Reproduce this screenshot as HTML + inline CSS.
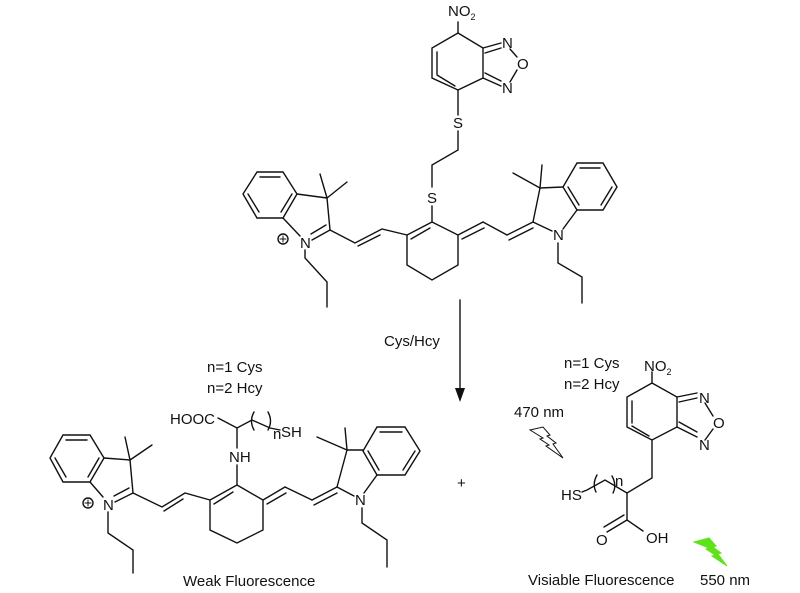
<!DOCTYPE html>
<html><head><meta charset="utf-8"><style>
html,body{margin:0;padding:0;background:#fff;}
svg{display:block;}
text{font-family:"Liberation Sans",Arial,sans-serif;font-size:15px;fill:#111;}
</style></head><body>
<svg width="800" height="593" viewBox="0 0 800 593" xmlns="http://www.w3.org/2000/svg">
<g stroke="#111" stroke-width="1.4" fill="none" stroke-linecap="round">
<polyline points="458,33 483,48 483,78 458,90 432,78 432,48 458,33"/>
<line x1="437" y1="74" x2="437" y2="52"/><line x1="455" y1="86" x2="437" y2="75"/>
<line x1="458" y1="33" x2="458" y2="22"/>
<line x1="483" y1="48" x2="501" y2="43"/><line x1="485" y1="53" x2="501" y2="48"/>
<line x1="483" y1="78" x2="501" y2="86"/><line x1="485" y1="73" x2="501" y2="81"/>
<line x1="510" y1="49" x2="517" y2="57"/><line x1="510" y1="82" x2="517" y2="70"/>
<line x1="458" y1="90" x2="458" y2="115"/>
<polyline points="458,131 458,150 432,165 432,187"/>
<line x1="432" y1="206" x2="432" y2="222"/>
<polyline points="432,222 458,235 458,265 432,280 407,265 407,235 432,222"/>
<line x1="411" y1="239" x2="430" y2="228"/>
<polyline points="407,235 382,229 355,243 330,230"/>
<line x1="380" y1="235" x2="358" y2="246"/>
<polyline points="257,172 283,172 297,194 283,218 257,218 243,194 257,172"/>
<line x1="260" y1="177" x2="280" y2="177"/><line x1="292" y1="194" x2="281" y2="212"/><line x1="248" y1="194" x2="259" y2="212"/>
<line x1="297" y1="194" x2="327" y2="198"/>
<line x1="327" y1="198" x2="330" y2="230"/>
<line x1="327" y1="198" x2="320" y2="174"/><line x1="327" y1="198" x2="347" y2="182"/>
<line x1="330" y1="230" x2="312" y2="240"/><line x1="326" y1="225" x2="311" y2="234"/>
<line x1="283" y1="218" x2="300" y2="236"/>
<polyline points="305,250 305,258 327,282 327,307"/>
<circle cx="283" cy="239" r="5"/><line x1="280" y1="239" x2="286" y2="239" stroke-width="1"/><line x1="283" y1="236" x2="283" y2="242" stroke-width="1"/>
<line x1="458" y1="235" x2="483" y2="222"/><line x1="462" y1="239" x2="484" y2="228"/>
<line x1="483" y1="222" x2="507" y2="235"/>
<line x1="507" y1="235" x2="533" y2="222"/><line x1="509" y1="240" x2="533" y2="228"/>
<line x1="533" y1="222" x2="552" y2="231"/>
<line x1="533" y1="222" x2="540" y2="188"/>
<line x1="540" y1="188" x2="513" y2="173"/><line x1="540" y1="188" x2="542" y2="165"/>
<line x1="540" y1="188" x2="563" y2="187"/>
<polyline points="577,163 603,163 617,187 603,210 577,210 563,187 577,163"/>
<line x1="580" y1="168" x2="600" y2="168"/><line x1="612" y1="187" x2="601" y2="205"/><line x1="568" y1="187" x2="579" y2="205"/>
<line x1="577" y1="210" x2="563" y2="229"/>
<polyline points="558,243 558,263 582,277 582,303"/>
<line x1="460" y1="300" x2="460" y2="392"/>
</g>
<polygon points="455,388 465,388 460,402" fill="#111"/>

<g stroke="#111" stroke-width="1.4" fill="none" stroke-linecap="round">
<polyline points="218,418 237,428 252,420 270,428 280,430"/>
<path d="M254,412 Q249,421 254,430"/><path d="M268,412 Q273,421 268,430"/>
<line x1="237" y1="428" x2="237" y2="448"/>
<line x1="237" y1="465" x2="237" y2="485"/>
<polyline points="237,485 263,500 263,530 237,543 210,530 210,500 237,485"/>
<line x1="214" y1="504" x2="233" y2="492"/>
<polyline points="210,500 185,493 162,507 133,493"/>
<line x1="183" y1="499" x2="164" y2="511"/>
<polyline points="63,435 90,435 104,458 90,482 63,482 50,458 63,435"/>
<line x1="66" y1="440" x2="87" y2="440"/><line x1="99" y1="458" x2="88" y2="477"/><line x1="55" y1="458" x2="66" y2="477"/>
<line x1="104" y1="458" x2="130" y2="460"/>
<line x1="130" y1="460" x2="133" y2="493"/>
<line x1="130" y1="460" x2="125" y2="437"/><line x1="130" y1="460" x2="152" y2="445"/>
<line x1="133" y1="493" x2="115" y2="502"/><line x1="129" y1="488" x2="114" y2="496"/>
<line x1="90" y1="482" x2="103" y2="497"/>
<polyline points="108,512 108,533 133,550 133,573"/>
<circle cx="88" cy="503" r="5"/><line x1="85" y1="503" x2="91" y2="503" stroke-width="1"/><line x1="88" y1="500" x2="88" y2="506" stroke-width="1"/>
<line x1="263" y1="500" x2="285" y2="487"/><line x1="267" y1="504" x2="286" y2="493"/>
<line x1="285" y1="487" x2="312" y2="500"/>
<line x1="312" y1="500" x2="337" y2="487"/><line x1="314" y1="505" x2="337" y2="493"/>
<line x1="337" y1="487" x2="354" y2="496"/>
<line x1="337" y1="487" x2="347" y2="450"/>
<line x1="347" y1="450" x2="317" y2="437"/><line x1="347" y1="450" x2="345" y2="428"/>
<line x1="347" y1="450" x2="363" y2="450"/>
<polyline points="377,427 405,427 420,451 405,475 377,475 363,451 377,427"/>
<line x1="380" y1="432" x2="402" y2="432"/><line x1="415" y1="451" x2="403" y2="470"/><line x1="368" y1="451" x2="379" y2="470"/>
<line x1="377" y1="475" x2="364" y2="493"/>
<polyline points="362,508 362,523 387,540 387,567"/>
</g>

<g stroke="#111" stroke-width="1.4" fill="none" stroke-linecap="round">
<polyline points="652,383 677,397 677,427 652,440 627,427 627,397 652,383"/>
<line x1="632" y1="423" x2="632" y2="401"/><line x1="649" y1="436" x2="632" y2="426"/>
<line x1="652" y1="383" x2="652" y2="372"/>
<line x1="677" y1="397" x2="697" y2="393"/><line x1="679" y1="402" x2="697" y2="398"/>
<line x1="677" y1="427" x2="697" y2="437"/><line x1="679" y1="422" x2="697" y2="432"/>
<line x1="705" y1="403" x2="713" y2="416"/><line x1="705" y1="440" x2="713" y2="429"/>
<polyline points="652,440 652,478 627,493 627,520"/>
<polyline points="627,493 605,480 587,490 582,492"/>
<path d="M597,475 Q592,484 596,492"/><path d="M612,476 Q617,485 613,493"/>
<line x1="627" y1="520" x2="643" y2="531"/>
<line x1="627" y1="520" x2="607" y2="532"/><line x1="624" y1="515" x2="604" y2="527"/>
<path d="M530,430 L543,427 L550,435 L547,436 L556,443 L553,444 L563,458 L546,446 L549,445 L540,439 L543,438 Z" stroke-width="1"/>
</g>
<path d="M694,542 L709,538 L716,546 L713,547 L721,553 L718,554 L727,566 L712,556 L715,555 L706,549 L709,548 Z" fill="#5fe21a" stroke="#5fe21a" stroke-width="1"/>

<text x="448" y="16" font-size="14">NO<tspan font-size="9" dy="4">2</tspan></text>
<text x="502" y="48" font-size="14">N</text>
<text x="517" y="69" font-size="14">O</text>
<text x="502" y="93" font-size="14">N</text>
<text x="453" y="128">S</text>
<text x="427" y="203">S</text>
<text x="300" y="248">N</text>
<text x="553" y="240">N</text>
<text x="384" y="346" font-size="14">Cys/Hcy</text>

<text x="207" y="372" font-size="14">n=1 Cys</text>
<text x="207" y="393" font-size="14">n=2 Hcy</text>
<text x="170" y="424" font-size="14">HOOC</text>
<text x="273" y="439" font-size="12">n</text>
<text x="281" y="437" font-size="14">SH</text>
<text x="229" y="462" font-size="14">NH</text>
<text x="103" y="510">N</text>
<text x="355" y="505">N</text>
<text x="183" y="586">Weak Fluorescence</text>
<text x="457" y="488" font-size="14">+</text>

<text x="564" y="368" font-size="14">n=1 Cys</text>
<text x="564" y="389" font-size="14">n=2 Hcy</text>
<text x="514" y="417" font-size="14">470 nm</text>
<text x="644" y="371" font-size="14">NO<tspan font-size="9" dy="4">2</tspan></text>
<text x="699" y="403" font-size="14">N</text>
<text x="713" y="428" font-size="14">O</text>
<text x="699" y="450" font-size="14">N</text>
<text x="615" y="486" font-size="12">n</text>
<text x="561" y="500" font-size="14">HS</text>
<text x="596" y="545" font-size="14">O</text>
<text x="646" y="543" font-size="14">OH</text>
<text x="528" y="585">Visiable Fluorescence</text>
<text x="700" y="585">550 nm</text>
</svg>
</body></html>
